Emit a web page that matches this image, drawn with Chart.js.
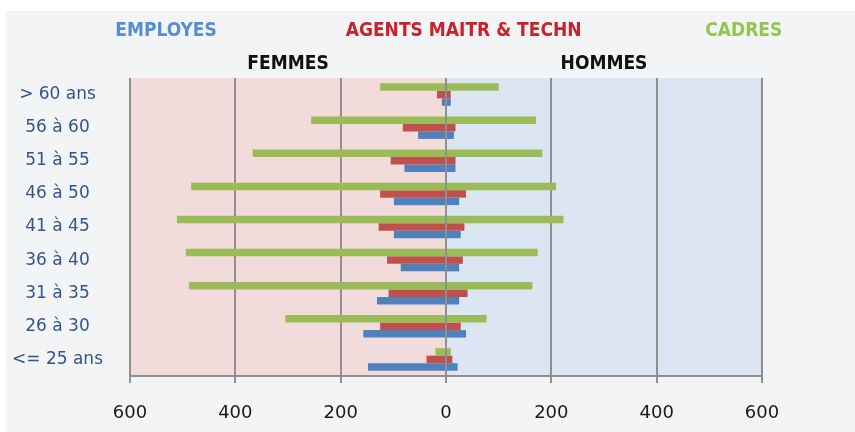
<!DOCTYPE html>
<html>
<head>
<meta charset="utf-8">
<script src="https://cdn.jsdelivr.net/npm/chart.js@4"></script>
<style>
  html, body { margin: 0; padding: 0; background: #fff; }
  #panel { position: absolute; left: 6px; top: 11px; width: 849px; height: 421px; background: #f3f4f6; }
</style>
</head>
<body>
<div id="panel"><canvas id="chart" width="849" height="421"></canvas></div>
<script>
const ageLabels = ['> 60 ans', '56 à 60', '51 à 55', '46 à 50', '41 à 45', '36 à 40', '31 à 35', '26 à 30', '<= 25 ans']

const employesFemmes = [8, 53, 79, 99, 99, 86, 131, 157, 148]
const employesHommes = [9, 15, 18, 25, 28, 25, 25, 38, 22]
const agentsFemmes = [17, 82, 105, 125, 128, 112, 109, 125, 37]
const agentsHommes = [9, 18, 18, 38, 35, 32, 41, 28, 12]
const cadresFemmes = [125, 256, 367, 484, 511, 494, 488, 305, 20]
const cadresHommes = [100, 171, 183, 209, 223, 174, 164, 77, 9]

const xTicks = [-600, -400, -200, 0, 200, 400, 600]
const seriesNames = ['EMPLOYES', 'AGENTS MAITR & TECHN', 'CADRES']
const sideNames = ['FEMMES', 'HOMMES']

const colors = { employes: '#4f81bd', agents: '#c0504d', cadres: '#9bbb59' }
const titleColors = ['#558ed5', '#c8232c', '#92c650']

const neg = (arr) => arr.map(v => -v)

// fond rose / bleu de chaque cote du zero
const halfBackground = {
  id: 'halfBackground',
  beforeDraw(chart) {
    const { ctx, chartArea, scales } = chart
    const zero = scales.x.getPixelForValue(0)
    ctx.save()
    ctx.fillStyle = '#f2dcdb'
    ctx.fillRect(chartArea.left, chartArea.top, zero - chartArea.left, chartArea.bottom - chartArea.top)
    ctx.fillStyle = '#dce6f2'
    ctx.fillRect(zero, chartArea.top, chartArea.right - zero, chartArea.bottom - chartArea.top)
    ctx.restore()
  }
}

// titres : categories en couleur + FEMMES / HOMMES
const headers = {
  id: 'headers',
  afterDraw(chart) {
    const { ctx, width, scales } = chart
    const xs = [0.1885, 0.539, 0.869]
    ctx.save()
    ctx.textAlign = 'center'
    ctx.textBaseline = 'middle'
    ctx.font = 'bold 19px "Liberation Sans Narrow", "DejaVu Sans Condensed", sans-serif'
    seriesNames.forEach((name, i) => {
      ctx.fillStyle = titleColors[i]
      ctx.fillText(name, width * xs[i], 20)
    })
    ctx.fillStyle = '#111'
    ctx.fillText(sideNames[0], scales.x.getPixelForValue(-300), 53)
    ctx.fillText(sideNames[1], scales.x.getPixelForValue(300), 53)
    ctx.restore()
  }
}

new Chart('chart', {
  type: 'bar',
  data: {
    labels: ageLabels,
    datasets: [
      { label: 'Cadres F', data: neg(cadresFemmes), backgroundColor: colors.cadres, stack: 'c' },
      { label: 'Cadres H', data: cadresHommes, backgroundColor: colors.cadres, stack: 'c' },
      { label: 'Agents F', data: neg(agentsFemmes), backgroundColor: colors.agents, stack: 'a' },
      { label: 'Agents H', data: agentsHommes, backgroundColor: colors.agents, stack: 'a' },
      { label: 'Employes F', data: neg(employesFemmes), backgroundColor: colors.employes, stack: 'e' },
      { label: 'Employes H', data: employesHommes, backgroundColor: colors.employes, stack: 'e' }
    ]
  },
  options: {
    indexAxis: 'y',
    responsive: false,
    animation: false,
    devicePixelRatio: 1,
    categoryPercentage: 0.68,
    barPercentage: 1,
    layout: { padding: { top: 67, right: 93, left: 0, bottom: 0 } },
    plugins: {
      legend: { display: false },
      tooltip: { enabled: false }
    },
    scales: {
      x: {
        stacked: true,
        min: -600,
        max: 600,
        z: 1,
        afterBuildTicks: (scale) => { scale.ticks = xTicks.map(v => ({ value: v })) },
        afterFit: (scale) => { scale.height = 56 },
        grid: { color: '#8f8f8f', lineWidth: 2, tickLength: 7 },
        border: { display: true, color: '#8f8f8f', width: 2 },
        ticks: {
          callback: (v) => Math.abs(v),
          padding: 20,
          color: '#1a1a1a',
          font: { family: '"DejaVu Sans", sans-serif', size: 18 },
          maxRotation: 0
        }
      },
      y: {
        afterFit: (scale) => { scale.width = 124 },
        grid: { display: false },
        border: { display: false },
        ticks: {
          crossAlign: 'center',
          padding: 19,
          color: '#34558a',
          font: { family: '"DejaVu Sans", sans-serif', size: 17 }
        }
      }
    }
  },
  plugins: [halfBackground, headers]
})
</script>
</body>
</html>
